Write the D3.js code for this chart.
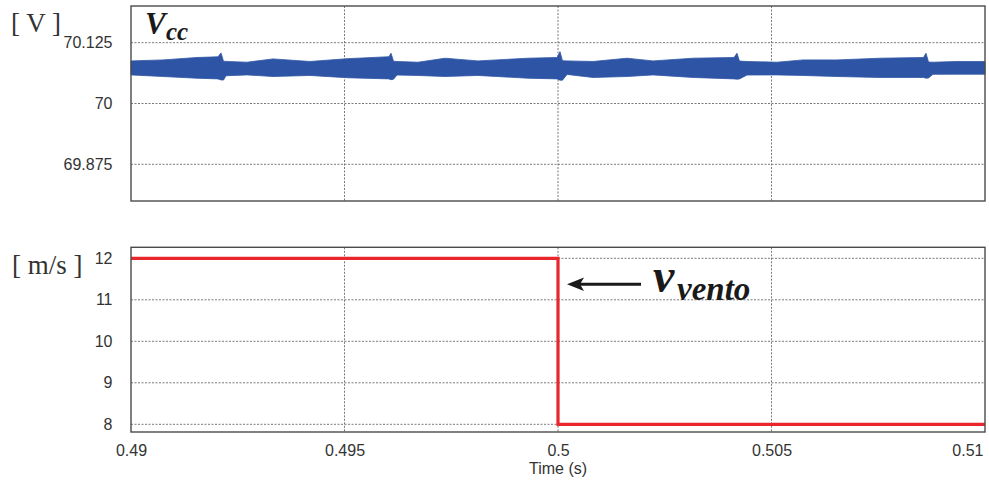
<!DOCTYPE html>
<html>
<head>
<meta charset="utf-8">
<script src="https://cdn.jsdelivr.net/npm/d3@7/dist/d3.min.js"></script>
<style>
  html, body { margin: 0; padding: 0; background: #fff; }
  svg { display: block; }
  .tick text { font-family: "Liberation Sans", Arial, sans-serif; font-size: 16px; fill: #333; }
  .unit { font-family: "Liberation Serif", "Times New Roman", serif; font-size: 27px; fill: #333; }
  .sym { font-family: "Liberation Serif", "Times New Roman", serif; font-weight: bold; font-style: italic; fill: #1a1a1a; }
</style>
</head>
<body>
<script>
// Time axis (s)
const timeTicks = [0.49, 0.495, 0.5, 0.505, 0.51];

// DC-link voltage Vcc: ripple band (upper / lower envelope) in volts
const vccTicks = [69.875, 70, 70.125];
const vccTime = [0.49, 0.490749, 0.491546, 0.492037, 0.492108, 0.492166, 0.492225, 0.492717,
  0.493326, 0.494192, 0.495059, 0.496042, 0.496089, 0.496148, 0.49623, 0.496721, 0.497354,
  0.498126, 0.499297, 0.49998, 0.500047, 0.500105, 0.500211, 0.50082, 0.501616, 0.502225,
  0.503162, 0.504122, 0.504192, 0.504250, 0.504426, 0.505129, 0.505738, 0.506534, 0.507541,
  0.508560, 0.508618, 0.508677, 0.508782, 0.509344, 0.51];
const vccUpper = [70.0876, 70.0896, 70.0946, 70.0960, 70.1040, 70.0870, 70.0866, 70.0849,
  70.0917, 70.0864, 70.0921, 70.0962, 70.1034, 70.0868, 70.0864, 70.0849, 70.0931,
  70.0876, 70.0931, 70.0946, 70.1065, 70.0880, 70.0876, 70.0864, 70.0931, 70.0876,
  70.0931, 70.0946, 70.1034, 70.0872, 70.0864, 70.0849, 70.0896, 70.0896, 70.0931,
  70.0946, 70.1034, 70.0852, 70.0849, 70.0864, 70.0864];
const vccLower = [70.0588, 70.0555, 70.0520, 70.0506, 70.0485, 70.0482, 70.0570, 70.0588,
  70.0555, 70.0576, 70.0530, 70.0506, 70.0489, 70.0498, 70.0585, 70.0576, 70.0555,
  70.0576, 70.0520, 70.0506, 70.0479, 70.0479, 70.0598, 70.0535, 70.0555, 70.0588,
  70.0535, 70.0506, 70.0500, 70.0505, 70.0585, 70.0588, 70.0576, 70.0555, 70.0535,
  70.0535, 70.0520, 70.0525, 70.0600, 70.0602, 70.0602];

// Wind speed step (m/s)
const windTicks = [8, 9, 10, 11, 12];
const windTime = [0.49, 0.5, 0.51];
const windSpeed = [12, 8, 8];

const W = 989, H = 481;
const svg = d3.select("body").append("svg").attr("width", W).attr("height", H);

const x = d3.scaleLinear().domain([0.49, 0.51]).range([131, 985]);
const yV = d3.scaleLinear().domain([69.875, 70.125]).range([164.3, 42.7]);
const yW = d3.scaleLinear().domain([8, 12]).range([424.3, 258.3]);

const panels = [
  { top: 6, bottom: 201, y: yV, ticks: vccTicks },
  { top: 247.3, bottom: 432, y: yW, ticks: windTicks }
];

panels.forEach(p => {
  const g = svg.append("g");
  // horizontal grid
  g.selectAll("line.hg").data(p.ticks).join("line")
    .attr("x1", x.range()[0]).attr("x2", x.range()[1])
    .attr("y1", d => p.y(d)).attr("y2", d => p.y(d))
    .attr("stroke", "#6a6a6a").attr("stroke-width", 0.9).attr("stroke-dasharray", "2,1.5");
  // vertical grid
  g.selectAll("line.vg").data(timeTicks.slice(1, -1)).join("line")
    .attr("x1", d => x(d)).attr("x2", d => x(d))
    .attr("y1", p.top).attr("y2", p.bottom)
    .attr("stroke", "#6a6a6a").attr("stroke-width", 0.9).attr("stroke-dasharray", "2,1.5");
  // y tick labels
  const ax = svg.append("g").attr("transform", `translate(${x.range()[0]},0)`)
    .call(d3.axisLeft(p.y).tickValues(p.ticks).tickSize(0).tickPadding(18.5).tickFormat(d => String(d)));
  ax.select(".domain").remove();
});

// Vcc ripple band
const idx = d3.range(vccTime.length);
svg.append("path")
  .datum(idx)
  .attr("d", d3.area().x(i => x(vccTime[i])).y0(i => yV(vccLower[i])).y1(i => yV(vccUpper[i])))
  .attr("fill", "#2e55a5").attr("stroke", "#2e55a5").attr("stroke-width", 0.8);

// wind speed step
const widx = d3.range(windTime.length);
svg.append("path")
  .datum(widx)
  .attr("d", d3.line().x(i => x(windTime[i])).y(i => yW(windSpeed[i])).curve(d3.curveStepAfter))
  .attr("fill", "none").attr("stroke", "#e8262b").attr("stroke-width", 3.2);

// panel frames
panels.forEach(p => {
  svg.append("rect")
    .attr("x", x.range()[0]).attr("y", p.top)
    .attr("width", x.range()[1] - x.range()[0]).attr("height", p.bottom - p.top)
    .attr("fill", "none").attr("stroke", "#4a4a4a").attr("stroke-width", 1.4);
});

// time axis labels
const xa = svg.append("g").attr("transform", "translate(0,432)")
  .call(d3.axisBottom(x).tickValues(timeTicks).tickSize(0).tickPadding(12.6).tickFormat(d => String(d)));
xa.select(".domain").remove();
xa.selectAll(".tick text").filter(d => d === 0.51).attr("text-anchor", "end").attr("dx", -2);

svg.append("text").attr("x", x(0.5)).attr("y", 474)
  .attr("text-anchor", "middle")
  .style("font-family", '"Liberation Sans", Arial, sans-serif').style("font-size", "16px").style("fill", "#333")
  .text("Time (s)");

// units
svg.append("text").attr("class", "unit").attr("x", 11).attr("y", 32).text("[ V ]");
svg.append("text").attr("class", "unit").attr("x", 12).attr("y", 274).text("[ m/s ]");

// Vcc symbol
svg.append("text").attr("class", "sym").attr("x", 145).attr("y", 33.5).style("font-size", "31px").text("V");
svg.append("text").attr("class", "sym").attr("x", 166).attr("y", 40).style("font-size", "25px").text("cc");

// wind speed symbol with arrow
svg.append("text").attr("class", "sym").attr("x", 653).attr("y", 291.5).style("font-size", "48px").text("v");
svg.append("text").attr("class", "sym").attr("x", 677).attr("y", 300).style("font-size", "33px").text("vento");

svg.append("line").attr("x1", 580).attr("x2", 641).attr("y1", 284.3).attr("y2", 284.3)
  .attr("stroke", "#1a1a1a").attr("stroke-width", 3);
svg.append("path")
  .attr("d", d3.line()([[567, 284.3], [584, 277.5], [580, 284.3], [584, 291.1]]) + "Z")
  .attr("fill", "#1a1a1a");
</script>
</body>
</html>
